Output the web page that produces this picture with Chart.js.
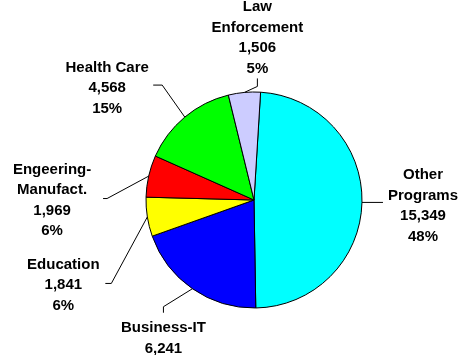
<!DOCTYPE html>
<html>
<head>
<meta charset="utf-8">
<script src="https://cdn.jsdelivr.net/npm/chart.js@4/dist/chart.umd.min.js"></script>
<style>
  html, body { margin: 0; padding: 0; background: #fff; }
  #wrap { width: 461px; height: 355px; position: relative; }
</style>
</head>
<body>
<div id="wrap"><canvas id="c" width="461" height="355"></canvas></div>
<script>
// Enrollment by program area
const categories = ['Other Programs', 'Business-IT', 'Education', 'Engeering-Manufact.', 'Health Care', 'Law Enforcement'];
const labelLines = [['Other', 'Programs'], ['Business-IT'], ['Education'], ['Engeering-', 'Manufact.'], ['Health Care'], ['Law', 'Enforcement']];
const enrollments = [15349, 6241, 1841, 1969, 4568, 1506];
const percentLabels = ['48%', '20%', '6%', '6%', '15%', '5%'];
const sliceColors = ['#00FFFF', '#0000FF', '#FFFF00', '#FF0000', '#00FF00', '#CCCCFF'];

// Label placement relative to each slice's outer mid-point:
// leader = successive offsets of the leader-line vertices, text = offset of the text block centre.
const labelLayout = [
  { leader: [[21, 0]],              text: [61, 3.5] },
  { leader: [[-29, 18], [0, 6]],    text: [-29, 60] },
  { leader: [[-36, 66.5], [-6, 0]], text: [-84, 68] },
  { leader: [[-41.6, 22.4], [-4, 0]], text: [-96.6, 24.4] },
  { leader: [[-22.6, -32], [-9, 0]], text: [-77.6, -29] },
  { leader: [[13, -6], [0, -8]],    text: [13, -54.5] }
];

const LINE_H = 20.5;

const calloutPlugin = {
  id: 'callouts',
  afterDatasetsDraw(chart) {
    const ctx = chart.ctx;
    const meta = chart.getDatasetMeta(0);
    ctx.save();
    ctx.font = 'bold 15px "Liberation Sans", Arial, sans-serif';
    ctx.textAlign = 'center';
    ctx.textBaseline = 'middle';
    ctx.fillStyle = '#000';
    meta.data.forEach((arc, i) => {
      const p = arc.getProps(['x', 'y', 'startAngle', 'endAngle', 'outerRadius'], true);
      const mid = (p.startAngle + p.endAngle) / 2;
      const ax = p.x + Math.cos(mid) * p.outerRadius;
      const ay = p.y + Math.sin(mid) * p.outerRadius;
      const lay = labelLayout[i];

      // leader line
      ctx.beginPath();
      ctx.strokeStyle = '#000';
      ctx.lineWidth = 1;
      let x = ax, y = ay;
      ctx.moveTo(x, y);
      lay.leader.forEach(([dx, dy]) => { x += dx; y += dy; ctx.lineTo(x, y); });
      ctx.stroke();

      // text block
      const lines = labelLines[i].concat([enrollments[i].toLocaleString('en-US'), percentLabels[i]]);
      const cx = ax + lay.text[0];
      const cy = ay + lay.text[1];
      const top = cy - (lines.length - 1) * LINE_H / 2;
      lines.forEach((t, k) => ctx.fillText(t, cx, top + k * LINE_H));
    });
    ctx.restore();
  }
};

new Chart(document.getElementById('c'), {
  type: 'pie',
  data: {
    labels: categories,
    datasets: [{
      data: enrollments,
      backgroundColor: sliceColors,
      borderColor: '#000',
      borderWidth: 1,
      hoverOffset: 0,
      hoverBorderWidth: 1
    }]
  },
  options: {
    responsive: false,
    animation: false,
    events: [],
    rotation: 3.5,
    radius: 108,
    layout: { padding: { left: 146, right: 99, top: 92, bottom: 47 } },
    plugins: {
      legend: { display: false },
      tooltip: { enabled: false },
      title: { display: false }
    }
  },
  plugins: [calloutPlugin]
});
</script>
</body>
</html>
